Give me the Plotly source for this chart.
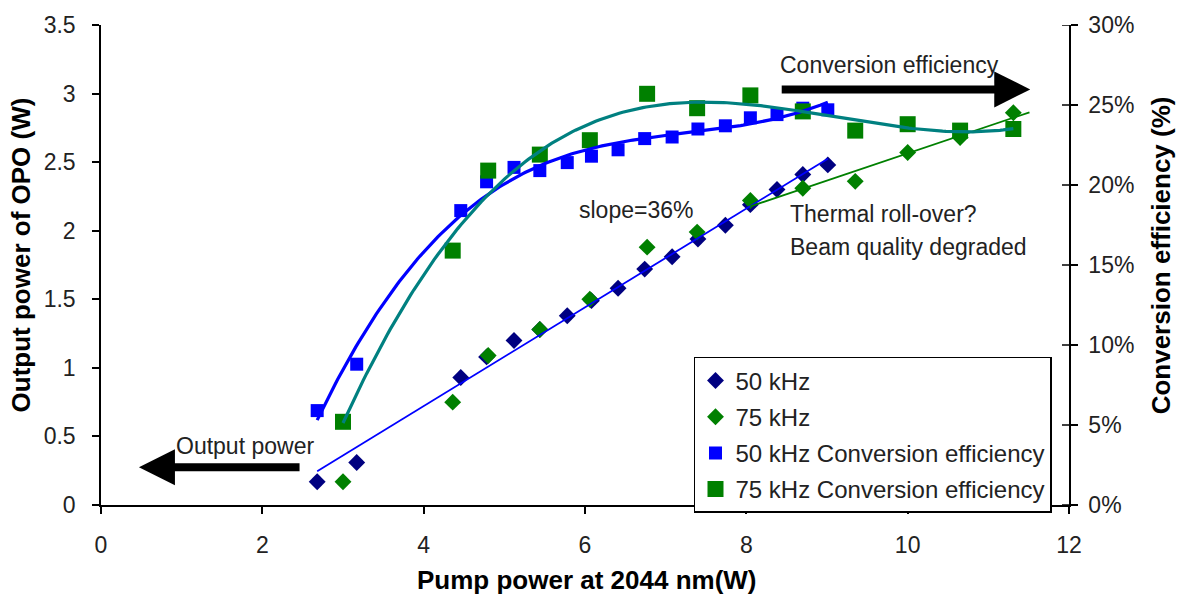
import numpy as np
import plotly.graph_objects as go

# Pump power (W) and OPO output power (W)
pump_50 = [2.68, 3.17, 4.46, 4.78, 5.12, 5.44, 5.78, 6.08, 6.41, 6.74, 7.08, 7.40, 7.74, 8.05, 8.38, 8.70, 9.01]
power_50 = [0.17, 0.31, 0.93, 1.08, 1.20, 1.28, 1.38, 1.49, 1.58, 1.72, 1.81, 1.94, 2.04, 2.19, 2.30, 2.41, 2.48]

pump_75 = [3.00, 4.36, 4.80, 5.44, 6.06, 6.77, 7.39, 8.05, 8.70, 9.35, 10.00, 10.65, 11.31]
power_75 = [0.17, 0.75, 1.09, 1.28, 1.50, 1.88, 1.99, 2.22, 2.31, 2.36, 2.57, 2.68, 2.86]

# Conversion efficiency (%)
eff_50 = [5.9, 8.8, 18.4, 20.2, 21.1, 20.9, 21.4, 21.8, 22.2, 22.9, 23.0, 23.5, 23.7, 24.2, 24.4, 24.8, 24.7]
eff_75 = [5.2, 15.9, 20.9, 21.9, 22.8, 25.7, 24.8, 25.6, 24.6, 23.4, 23.8, 23.4, 23.5]

# Trendline settings
SLOPE_50 = 0.36          # linear slope quoted in the "slope=36%" label
ROLLOVER_START = 8.0     # 75 kHz points above this pump power get their own linear fit
FORECAST_FORWARD = 0.2   # forward extension of the roll-over trendline (W)
POLY_ORDER = 3           # polynomial order of the efficiency trendlines

FONT = "Liberation Sans, Arial, sans-serif"
TXT = "#222222"

fig = go.Figure()

# ---- output power markers (left axis)
fig.add_trace(go.Scatter(x=pump_50, y=power_50, mode="markers", name="50 kHz",
                         marker=dict(symbol="diamond", size=13, color="#000080"),
                         legendgroup="a"))
fig.add_trace(go.Scatter(x=pump_75, y=power_75, mode="markers", name="75 kHz",
                         marker=dict(symbol="diamond", size=13, color="#008000"),
                         legendgroup="b"))

# linear trend of the 50 kHz output power with the quoted slope
p50x = np.array(pump_50)
p50y = np.array(power_50)
icpt = p50y.mean() - SLOPE_50 * p50x.mean()
lx = np.array([p50x.min(), p50x.max()])
fig.add_trace(go.Scatter(x=lx, y=icpt + SLOPE_50 * lx, mode="lines",
                         line=dict(color="#0000FF", width=1.8), showlegend=False, hoverinfo="skip"))

# linear trend of the 75 kHz roll-over region
p75x = np.array(pump_75)
p75y = np.array(power_75)
sel = p75x >= ROLLOVER_START
k, b = np.polyfit(p75x[sel], p75y[sel], 1)
rx = np.array([p75x[sel].min(), p75x[sel].max() + FORECAST_FORWARD])
fig.add_trace(go.Scatter(x=rx, y=k * rx + b, mode="lines",
                         line=dict(color="#008000", width=1.8), showlegend=False, hoverinfo="skip"))

# ---- conversion efficiency markers (right axis)
fig.add_trace(go.Scatter(x=pump_50, y=eff_50, mode="markers", name="50 kHz Conversion efficiency",
                         marker=dict(symbol="square", size=13, color="#0000FF"),
                         yaxis="y2", legendgroup="c"))
fig.add_trace(go.Scatter(x=pump_75, y=eff_75, mode="markers", name="75 kHz Conversion efficiency",
                         marker=dict(symbol="square", size=16, color="#008000"),
                         yaxis="y2", legendgroup="d"))

# polynomial trends of the efficiencies
for px, py, col in ((pump_50, eff_50, "#0000FF"), (pump_75, eff_75, "#008080")):
    coef = np.polyfit(px, py, POLY_ORDER)
    xs = np.linspace(min(px), max(px), 200)
    fig.add_trace(go.Scatter(x=xs, y=np.polyval(coef, xs), mode="lines",
                             line=dict(color=col, width=3.2), yaxis="y2",
                             showlegend=False, hoverinfo="skip"))

axis_common = dict(showline=True, linecolor="black", linewidth=1.5, ticks="outside",
                   ticklen=7, tickwidth=1.5, tickcolor="black", showgrid=False,
                   zeroline=False, tickfont=dict(family=FONT, size=23, color=TXT))

fig.update_layout(
    width=1181, height=598, autosize=False,
    margin=dict(l=101, r=112, t=22, b=93),
    paper_bgcolor="white", plot_bgcolor="white",
    font=dict(family=FONT, color=TXT),
    xaxis=dict(range=[0, 12], dtick=2, tick0=0, ticklabelstandoff=12, **axis_common),
    yaxis=dict(range=[0, 3.5], dtick=0.5, tick0=0, ticklabelstandoff=12, **axis_common),
    yaxis2=dict(range=[0, 30], dtick=5, tick0=0, overlaying="y", side="right",
                ticksuffix="%", ticklabelstandoff=6, **axis_common),
    legend=dict(x=0.6126, y=0.3085, xanchor="left", yanchor="top",
                bordercolor="black", borderwidth=1.5, bgcolor="white",
                font=dict(family=FONT, size=24, color=TXT),
                tracegroupgap=2, traceorder="grouped"),
)

# inner halves of the right-axis tick marks
inner = 7 / 968
for v in range(0, 31, 5):
    fig.add_shape(type="line", xref="paper", yref="y2", x0=1 - inner, x1=1, y0=v, y1=v,
                  line=dict(color="black", width=1.5))

# axis titles
title_font = dict(family=FONT, size=26, color="black")
fig.add_annotation(text="<b>Pump power at 2044 nm(W)</b>", xref="paper", yref="paper",
                   x=0.502, y=-0.157, xanchor="center", yanchor="middle",
                   showarrow=False, font=title_font)
fig.add_annotation(text="<b>Output power of OPO (W)</b>", xref="paper", yref="paper",
                   x=-0.0826, y=0.52, xanchor="center", yanchor="middle", textangle=-90,
                   showarrow=False, font=title_font)
fig.add_annotation(text="<b>Conversion efficiency (%)</b>", xref="paper", yref="paper",
                   x=1.095, y=0.52, xanchor="center", yanchor="middle", textangle=-90,
                   showarrow=False, font=title_font)

# text labels inside the plot
lab_font = dict(family=FONT, size=23, color=TXT)
fig.add_annotation(text="slope=36%", x=6.63, y=2.15, showarrow=False, font=lab_font)
fig.add_annotation(text="Thermal roll-over?", x=8.52, y=2.12, xanchor="left",
                   showarrow=False, font=lab_font)
fig.add_annotation(text="Beam quality degraded", x=8.52, y=1.88, xanchor="left",
                   showarrow=False, font=lab_font)
fig.add_annotation(text="Output power", x=1.785, y=0.43, showarrow=False, font=lab_font)
fig.add_annotation(text="Conversion efficiency", x=9.78, y=3.21, showarrow=False, font=lab_font)

# direction arrows
fig.add_annotation(x=0.47, y=0.275, ax=2.48, ay=0.275, axref="x", ayref="y",
                   showarrow=True, arrowhead=2, arrowsize=0.9, arrowwidth=8,
                   arrowcolor="black", text="", standoff=0)
fig.add_annotation(x=11.52, y=3.03, ax=8.42, ay=3.03, axref="x", ayref="y",
                   showarrow=True, arrowhead=2, arrowsize=0.9, arrowwidth=8,
                   arrowcolor="black", text="", standoff=0)

fig.write_html("out.html")
